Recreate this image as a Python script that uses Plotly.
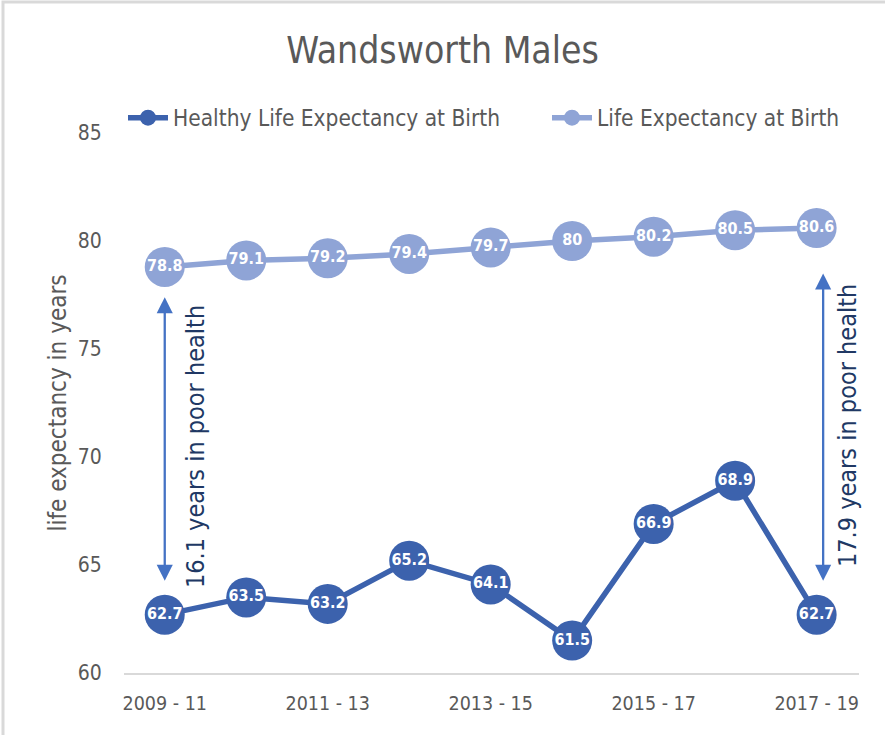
import plotly.graph_objects as go

periods = ["2009 - 11", "2010 - 12", "2011 - 13", "2012 - 14", "2013 - 15",
           "2014 - 16", "2015 - 17", "2016 - 18", "2017 - 19"]
healthy_le = [62.7, 63.5, 63.2, 65.2, 64.1, 61.5, 66.9, 68.9, 62.7]
life_exp = [78.8, 79.1, 79.2, 79.4, 79.7, 80.0, 80.2, 80.5, 80.6]
shown_ticks = ["2009 - 11", "2011 - 13", "2013 - 15", "2015 - 17", "2017 - 19"]
gap_first = "16.1 years in poor health"
gap_last = "17.9 years in poor health"

FONT = "'Liberation Sans Narrow', 'DejaVu Sans Condensed', Lato, sans-serif"
DARK = "#3C62AD"
LIGHT = "#8FA4D6"
GREY = "#595959"

L, R, T, B = 124, 26, 133, 62
W, H = 885, 735
PW, PH = W - L - R, H - T - B

def fmt(v):
    return ("%g" % v)

x_idx = list(range(len(periods)))

fig = go.Figure()
fig.add_trace(go.Scatter(
    x=x_idx, y=healthy_le, name="Healthy Life Expectancy at Birth",
    mode="lines+markers+text", text=[fmt(v) for v in healthy_le],
    textposition="middle center",
    textfont=dict(color="white", size=16, family=FONT, weight="bold"),
    line=dict(color=DARK, width=5.5),
    marker=dict(color=DARK, size=40, line=dict(width=0)),
    legend="legend", cliponaxis=False,
))
fig.add_trace(go.Scatter(
    x=x_idx, y=life_exp, name="Life Expectancy at Birth",
    mode="lines+markers+text", text=[fmt(v) for v in life_exp],
    textposition="middle center",
    textfont=dict(color="white", size=16, family=FONT, weight="bold"),
    line=dict(color=LIGHT, width=5.5),
    marker=dict(color=LIGHT, size=40, line=dict(width=0)),
    legend="legend2", cliponaxis=False,
))

annotations = []
for xa, ytop, ybot in [(0, 77.4, 64.2), (8.08, 78.5, 64.2)]:
    annotations.append(dict(
        x=xa, y=ytop, ax=xa, ay=ybot, xref="x", yref="y", axref="x", ayref="y",
        showarrow=True, arrowhead=2, startarrowhead=2, arrowside="end+start",
        arrowsize=1.4, startarrowsize=1.4, arrowwidth=2.3, arrowcolor="#4472C4", text="",
    ))
annotations.append(dict(
    x=0.37, y=70.5, xref="x", yref="y", text=gap_first, textangle=-90,
    showarrow=False, font=dict(size=25, color="#203864", family=FONT),
))
annotations.append(dict(
    x=8.37, y=71.47, xref="x", yref="y", text=gap_last, textangle=-90,
    showarrow=False, font=dict(size=25, color="#203864", family=FONT),
))
fig.update_layout(annotations=annotations)

fig.update_layout(
    width=W, height=H,
    paper_bgcolor="white", plot_bgcolor="white",
    margin=dict(l=L, r=R, t=T, b=B),
    font=dict(family=FONT, color=GREY),
    title=dict(text="Wandsworth Males", x=0.5, xanchor="center",
               y=1 - 50 / H, yanchor="middle",
               font=dict(size=37, color=GREY, family=FONT)),
    showlegend=True,
    legend=dict(orientation="h", x=(123 - L) / PW, y=(H - B - 118) / PH,
                xanchor="left", yanchor="middle",
                font=dict(size=22.5, color=GREY, family=FONT), bgcolor="rgba(0,0,0,0)",
                itemwidth=40),
    legend2=dict(orientation="h", x=(547 - L) / PW, y=(H - B - 118) / PH,
                 xanchor="left", yanchor="middle",
                 font=dict(size=22.5, color=GREY, family=FONT), bgcolor="rgba(0,0,0,0)",
                 itemwidth=40),
    xaxis=dict(
        range=[-0.5, 8.52], tickmode="array",
        tickvals=[periods.index(t) for t in shown_ticks], ticktext=shown_ticks,
        showgrid=False, zeroline=False, showline=True, linecolor="#D9D9D9", linewidth=2,
        ticks="outside", ticklen=12, tickcolor="rgba(0,0,0,0)",
        tickfont=dict(size=19.5, color=GREY, family=FONT),
    ),
    yaxis=dict(
        range=[60, 85], dtick=5, showgrid=False, zeroline=False, showline=False,
        ticks="outside", ticklen=17, tickcolor="rgba(0,0,0,0)",
        tickfont=dict(size=21, color=GREY, family=FONT),
        title=dict(text="life expectancy in years", standoff=4,
                   font=dict(size=24, color=GREY, family=FONT)),
    ),
    shapes=[dict(type="rect", xref="paper", yref="paper",
                 x0=(3 - L) / PW, x1=(1000 - L) / PW,
                 y0=(H - B - 1000) / PH, y1=(H - B - 2) / PH,
                 line=dict(color="#D9D9D9", width=3), fillcolor="rgba(0,0,0,0)",
                 layer="below")],
)

fig.write_html("out.html", config={"displayModeBar": False},
               post_script="document.body.style.margin='0';")
